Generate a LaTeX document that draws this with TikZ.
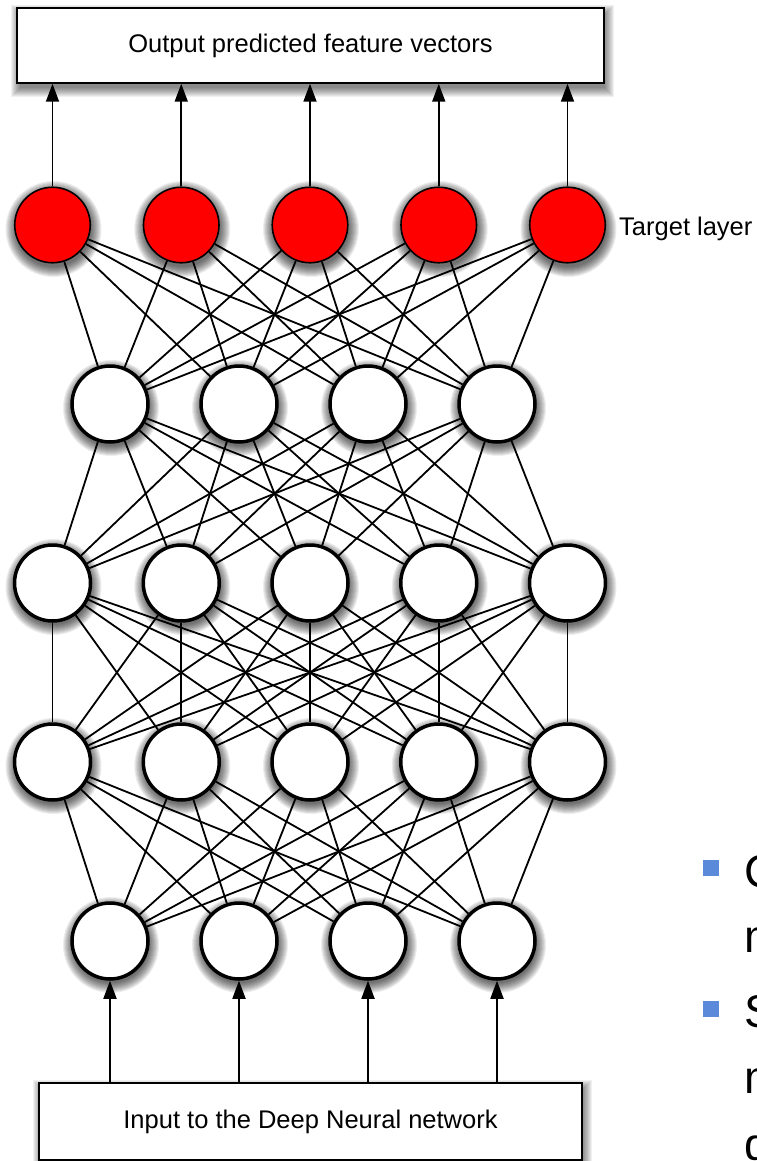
\documentclass[tikz,border=0pt]{standalone}
\usepackage{fontspec}
\setmainfont{Liberation Sans}
\usetikzlibrary{arrows.meta}
\definecolor{bulletblue}{RGB}{91,138,219}
\definecolor{targetred}{RGB}{255,0,0}
% soft drop shadow under a disc: stacked translucent discs
\newcommand\discshadow[2]{%
  \foreach \k in {0,...,10}
    \fill[black,opacity=0.07] ({#1+1},{#2+4}) circle ({38+\k});}
% soft drop shadow under a box given by its corners
\newcommand\boxshadow[4]{%
  \foreach \k in {0,...,9}
    \fill[black,opacity=0.06] ({#1-\k+3},{#2-\k+6}) rectangle ({#3+\k+1},{#4+\k+5});}
\begin{document}
\begin{tikzpicture}[x=1pt,y=-1pt,
  neuron/.style={circle,draw=black,line width=3.5pt,fill=white,minimum size=76pt,inner sep=0pt},
  target/.style={circle,draw=black,line width=1.6pt,fill=targetred,minimum size=75.5pt,inner sep=0pt},
  iobox/.style={rectangle,draw=black,line width=1.5pt,fill=white,inner sep=0pt,
    font=\fontsize{25.5}{30}\selectfont},
  link/.style={line width=1.8pt},
  feed/.style={line width=1.8pt,-{Triangle[width=13pt,length=18pt]}},
  label/.style={font=\fontsize{25.5}{30}\selectfont,inner sep=0pt},
  slidetext/.style={font=\fontsize{46}{55}\selectfont,inner sep=0pt,anchor=base west},
  bulletsq/.style={rectangle,fill=bulletblue,minimum size=16pt,inner sep=0pt}
]
\useasboundingbox (0,0) rectangle (756,1161);
\clip (0,0) rectangle (756,1161);

% input and output boxes
\boxshadow{17}{8}{604}{83}
\boxshadow{39}{1083}{582}{1160}
\node[iobox,minimum width=587pt,minimum height=75pt] (top) at (310.5,45.5) {Output predicted feature vectors};
\node[iobox,minimum width=543pt,minimum height=77pt] (bottom) at (310.5,1121.5) {Input to the Deep Neural network};

% layers of neurons
\foreach \x [count=\n] in {52.5,181.25,310,438.75,567.5}{
  \discshadow{\x}{225}
  \node[target] (t\n) at (\x,225) {};}
\foreach \x [count=\n] in {110,239,368,497}{
  \discshadow{\x}{404}
  \node[neuron] (a\n) at (\x,404) {};}
\foreach \x [count=\n] in {52.5,181.25,310,438.75,567.5}{
  \discshadow{\x}{583}
  \node[neuron] (b\n) at (\x,583) {};}
\foreach \x [count=\n] in {52.5,181.25,310,438.75,567.5}{
  \discshadow{\x}{762}
  \node[neuron] (c\n) at (\x,762) {};}
\foreach \x [count=\n] in {110,239,368,497}{
  \discshadow{\x}{941}
  \node[neuron] (d\n) at (\x,941) {};}

% fully connected links between neighbouring layers
\foreach \i in {1,...,5} \foreach \j in {1,...,4} \draw[link] (t\i) -- (a\j);
\foreach \i in {1,...,4} \foreach \j in {1,...,5} \draw[link] (a\i) -- (b\j);
\foreach \i in {1,...,5} \foreach \j in {1,...,5} \draw[link] (b\i) -- (c\j);
\foreach \i in {1,...,5} \foreach \j in {1,...,4} \draw[link] (c\i) -- (d\j);

% outputs and inputs
\foreach \n in {1,...,5} \draw[feed] (t\n.north) -- (t\n.north |- top.south);
\foreach \n in {1,...,4} \draw[feed] (d\n.south |- bottom.north) -- (d\n.south);

\node[label,anchor=base west] (tl) at (619,235) {Target layer};

% bullet list at the right edge
\node[bulletsq] (s1) at (711,868) {};
\node[bulletsq] (s2) at (711,1009) {};
\node[slidetext] (w1) at (744,887) {C};
\node[slidetext] (w2) at (744,952) {m};
\node[slidetext] (w3) at (744,1027) {S};
\node[slidetext] (w4) at (744,1093) {m};
\node[slidetext] (w5) at (744,1160) {g};
\end{tikzpicture}
\end{document}
